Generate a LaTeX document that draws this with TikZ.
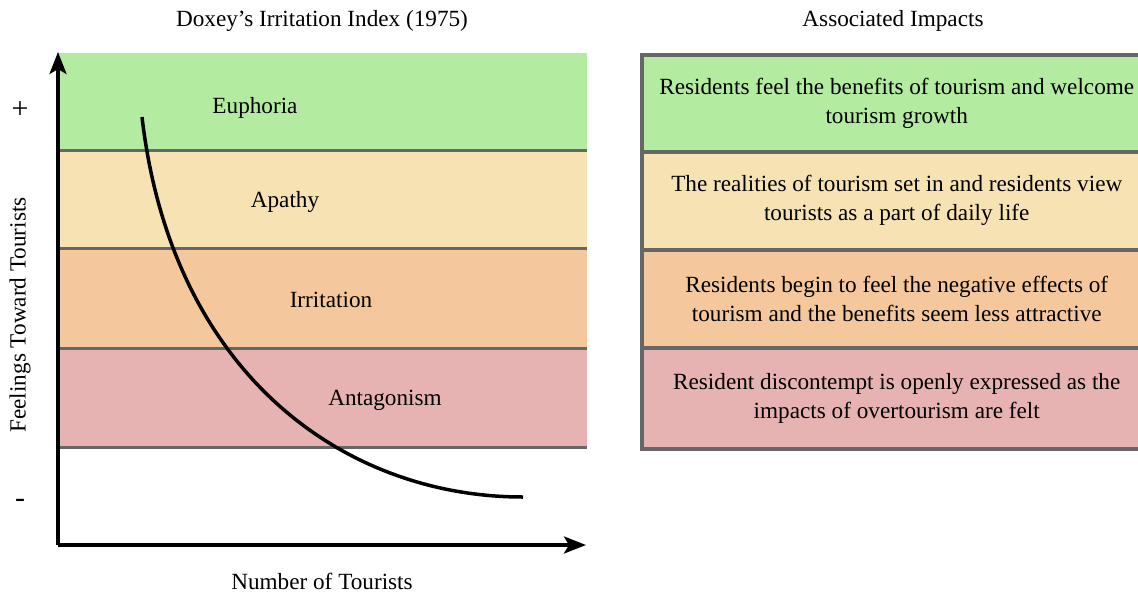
\documentclass[tikz,border=0pt]{standalone}
\usepackage{fontspec}
\setmainfont{Liberation Serif}
\usetikzlibrary{arrows.meta}
\definecolor{cgreen}{HTML}{B3EBA0}
\definecolor{cyellow}{HTML}{F6E2B3}
\definecolor{corange}{HTML}{F4C89C}
\definecolor{cred}{HTML}{E6B2B2}
\definecolor{cgray}{HTML}{666666}
\tikzset{
  lbl/.style={font=\fontsize{23.2}{29}\selectfont, inner sep=0pt},
  sign/.style={font=\fontsize{30}{30}\selectfont, inner sep=0pt},
  band/.style={draw=none, inner sep=0pt, minimum width=529pt, anchor=north west},
  sepline/.style={draw=cgray, line width=3.5pt},
  impact/.style={draw=cgray, line width=3.5pt, inner sep=0pt, minimum width=510pt, anchor=north west, align=center, font=\fontsize{23.2}{29}\selectfont},
  axis/.style={line width=3.5pt, -{Stealth[length=22pt,width=17pt,inset=5pt]}},
  curve/.style={line width=3.5pt}
}
\begin{document}
\begin{tikzpicture}[x=1pt,y=-1pt]
\useasboundingbox (0,0) rectangle (1138,592);
% left bands
\node[band, fill=cgreen, minimum height=97pt] (b1) at (58,53) {};
\node[band, fill=cyellow, minimum height=98pt] (b2) at (58,150) {};
\node[band, fill=corange, minimum height=100pt] (b3) at (58,248) {};
\node[band, fill=cred, minimum height=99pt] (b4) at (58,348) {};
\draw[sepline] (b1.south west) -- (b1.south east);
\draw[sepline] (b2.south west) -- (b2.south east);
\draw[sepline] (b3.south west) -- (b3.south east);
\draw[sepline] (b4.south west) -- (b4.south east);
\node[lbl] (eu) at (255,108) {Euphoria};
\node[lbl] (ap) at (285,202) {Apathy};
\node[lbl] (ir) at (331,300) {Irritation};
\node[lbl] (an) at (385,400) {Antagonism};
% curve
\coordinate (c0) at (142,117);
\coordinate (c1) at (523,497);
\draw[curve] (c0) .. controls (172,375) and (345,497) .. (c1);
% axes
\coordinate (o) at (58,545);
\coordinate (ytop) at (58,52);
\coordinate (xend) at (586,545);
\draw[axis] (o) -- (ytop);
\draw[axis] (o) -- (xend);
% axis labels
\node[sign] (plus) at (20,110) {+};
\node[sign] (minus) at (20,503) {-};
\node[lbl, rotate=90] (ylab) at (20,315) {Feelings Toward Tourists};
\node[lbl] (xlab) at (322,581) {Number of Tourists};
\node[lbl] (t1) at (322,21) {Doxey’s Irritation Index (1975)};
\node[lbl] (t2) at (893,21) {Associated Impacts};
% right boxes
\node[impact, fill=cgreen, minimum height=97pt] (r1) at (640,53) {Residents feel the benefits of tourism and welcome\\tourism growth};
\node[impact, fill=cyellow, minimum height=98pt] (r2) at (640,150) {The realities of tourism set in and residents view\\tourists as a part of daily life};
\node[impact, fill=corange, minimum height=98pt] (r3) at (640,248) {Residents begin to feel the negative effects of\\tourism and the benefits seem less attractive};
\node[impact, fill=cred, minimum height=101pt] (r4) at (640,346) {Resident discontempt is openly expressed as the\\impacts of overtourism are felt};
\end{tikzpicture}
\end{document}
